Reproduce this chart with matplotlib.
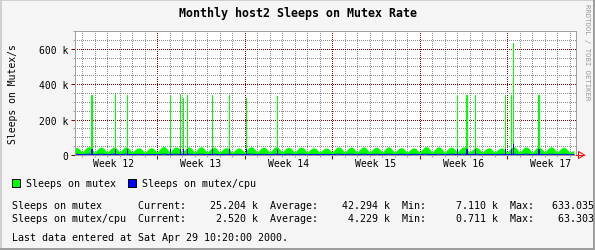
"""
RRDtool style monthly graph: host2 sleeps on mutex
"""

import numpy as np
import matplotlib
matplotlib.use('Agg')
import matplotlib.pyplot as plt
import matplotlib.transforms as mtransforms
from matplotlib.lines import Line2D
from matplotlib.patches import Rectangle, Polygon
from matplotlib.ticker import MultipleLocator, FuncFormatter, NullFormatter

W, H = 595, 251
MONO = 'DejaVu Sans Mono'

# Sleeps on mutex (k/s), 4-hour samples 00h..20h, one row per day,
# Mon Mar 20 .. Sat Apr 29 2000 (x axis = hours since Mar 20 00:00)
mutex_daily = [
    [17, 28, 38, 43, 40, 29],  # Mar 20
    [15, 29, 41, 47, 43, 30],
    [16, 28, 40, 45, 41, 29],
    [14, 28, 39, 44, 42, 30],
    [16, 29, 41, 46, 41, 28],
    [15, 27, 36, 41, 39, 27],
    [14, 26, 36, 42, 38, 27],
    [15, 30, 43, 49, 44, 31],  # Mar 27
    [16, 29, 41, 46, 42, 29],
    [15, 28, 40, 45, 43, 30],
    [14, 29, 41, 47, 42, 28],
    [16, 28, 39, 44, 41, 29],
    [15, 27, 37, 42, 39, 27],
    [14, 26, 35, 41, 38, 26],
    [16, 30, 42, 47, 43, 30],  # Apr 3
    [15, 29, 40, 45, 41, 29],
    [14, 28, 41, 46, 42, 30],
    [16, 29, 39, 44, 40, 28],
    [15, 28, 40, 45, 42, 29],
    [14, 27, 36, 41, 38, 27],
    [15, 26, 35, 40, 37, 26],
    [16, 29, 41, 46, 43, 30],  # Apr 10
    [15, 28, 40, 45, 41, 29],
    [14, 29, 41, 47, 42, 29],
    [16, 28, 39, 44, 41, 30],
    [15, 29, 40, 46, 42, 28],
    [14, 27, 37, 42, 39, 27],
    [15, 26, 36, 41, 38, 26],
    [16, 30, 42, 48, 44, 30],  # Apr 17
    [15, 29, 41, 46, 42, 29],
    [14, 28, 40, 45, 41, 30],
    [16, 29, 41, 46, 43, 29],
    [15, 28, 39, 44, 40, 28],
    [14, 27, 36, 41, 39, 27],
    [15, 26, 35, 41, 37, 26],
    [16, 30, 42, 47, 43, 30],  # Apr 24
    [15, 29, 41, 46, 42, 29],
    [14, 28, 40, 45, 41, 30],
    [16, 29, 41, 47, 42, 29],
    [15, 28, 39, 44, 41, 28],
    [14, 22, 25],              # Apr 29 (last data 10:20)
]
SAMPLE_H = 4

# short bursts (2 h samples), hours since Mar 20 00:00, values in k/s
spike_hours = [41, 43, 87, 109, 193, 212, 217, 225, 273, 306, 339, 397,
               743, 761, 763, 779, 836, 847, 851, 899, 901]
spike_vals = [340, 340, 345, 340, 332, 343, 323, 340, 340, 340, 323, 332,
              336, 336, 336, 336, 340, 336, 633, 340, 340]

N_CPU = 10  # "mutex/cpu" = mutex / number of cpus

week_nums = [12, 13, 14, 15, 16, 17]
x_start, x_end = 10.1, 972.0

stat_names = ['Sleeps on mutex', 'Sleeps on mutex/cpu']
stat_cur = [25.204, 2.520]
stat_avg = [42.294, 4.229]
stat_min = [7.110, 0.711]
stat_max = [633.035, 63.303]
last_update = 'Sat Apr 29 10:20:00 2000'

GREEN = '#00ff00'
BLUE = '#0000ff'
MGRID = '#820000'
GRID = '#8c8c8c'
FRAME = '#a0a0a0'
FS = 7.2


def fx(px):
    return px / W


def fy(py):
    return 1 - py / H


mutex = np.concatenate([np.array(r, dtype=float) for r in mutex_daily]) * 1000
hours = np.arange(len(mutex)) * SAMPLE_H
spikes = np.array(spike_vals, dtype=float) * 1000

fig = plt.figure(figsize=(W / 100, H / 100), dpi=100, facecolor='#f5f5f5')
ax = fig.add_axes([fx(75), fy(156), fx(576) - fx(75), fy(32) - fy(156)])
ax.set_facecolor('white')

ax.fill_between(hours, 0, mutex, color=GREEN, lw=0, zorder=1, antialiased=False)
ax.vlines(spike_hours, 0, spikes, color=GREEN, lw=0.72, zorder=1,
          antialiased=False)
ax.plot(hours, mutex / N_CPU, color=BLUE, lw=0.72, zorder=2)
ax.vlines(spike_hours, 0, spikes / N_CPU, color=BLUE, lw=0.72, zorder=2,
          antialiased=False)

ax.set_xlim(x_start, x_end)
ax.set_ylim(0, 700000)

ax.xaxis.set_major_locator(MultipleLocator(168))
ax.xaxis.set_minor_locator(MultipleLocator(24))
ax.xaxis.set_major_formatter(NullFormatter())
ax.yaxis.set_major_locator(MultipleLocator(200000))
ax.yaxis.set_minor_locator(MultipleLocator(50000))
ax.yaxis.set_major_formatter(FuncFormatter(
    lambda v, p: '0' if v == 0 else f'{v / 1000:.0f} k'))

# dotted rrdtool grid behind the data
ax.set_axisbelow(True)
ax.grid(True, which='major', color=MGRID, linestyle=(0.5, (1, 1)), lw=0.72)
ax.grid(True, which='minor', color=GRID, linestyle=(0.5, (1, 1)), lw=0.72)

ax.tick_params(which='major', direction='out', length=2.6, width=0.72,
               color=MGRID, pad=2.2, labelsize=7)
ax.tick_params(which='minor', direction='out', length=1.5, width=0.72,
               color=FRAME)
for lab in ax.get_yticklabels():
    lab.set_family(MONO)
for s in ax.spines.values():
    s.set_color(FRAME)
    s.set_linewidth(0.72)

# week labels centred in each week
trans = mtransforms.blended_transform_factory(ax.transData, fig.transFigure)
for k, wk in enumerate(week_nums):
    ax.text(168 * k + 84, fy(164.5), f'Week {wk}', transform=trans,
            ha='center', va='center', fontsize=7, family=MONO, clip_on=False)

# x axis arrow
fig.add_artist(Line2D([fx(576), fx(584)], [fy(156), fy(156)], color='red', lw=0.72))
fig.add_artist(Polygon([(fx(578.5), fy(152.5)), (fx(578.5), fy(159.5)),
                        (fx(584.5), fy(156))], closed=True, fc='none',
                       ec='red', lw=0.72))

fig.text(fx(298), fy(14), 'Monthly host2 Sleeps on Mutex Rate', ha='center',
         va='center', fontsize=8.4, fontweight='bold', family=MONO)
fig.text(fx(12.5), fy(94), 'Sleeps on Mutex/s', rotation=90, ha='center',
         va='center', fontsize=7, family=MONO)
fig.text(fx(587), fy(52), 'RRDTOOL / TOBI OETIKER', rotation=270, ha='center',
         va='center', fontsize=5.2, family=MONO, color='#999999')

# legend
for x0, col, name in [(12, GREEN, stat_names[0]), (128, BLUE, stat_names[1])]:
    fig.add_artist(Rectangle((fx(x0), fy(188)), 8 / W, 8 / H, fc=col,
                             ec='black', lw=0.72))
    fig.text(fx(x0 + 14), fy(184), name, ha='left', va='center',
             fontsize=FS, family=MONO)

# GPRINT lines (the Max column runs into the right border, unit is cut there)
for i, name in enumerate(stat_names):
    line = (f'{name:<21s}Current:{stat_cur[i]:10.3f} k  '
            f'Average:{stat_avg[i]:10.3f} k  Min:{stat_min[i]:10.3f} k  '
            f'Max:{stat_max[i]:10.3f}')
    fig.text(fx(12), fy(206 + 13.5 * i), line, ha='left', va='center',
             fontsize=FS, family=MONO)
fig.text(fx(12), fy(238), f'Last data entered at {last_update}.', ha='left',
         va='center', fontsize=FS, family=MONO)

# 3D border
fig.add_artist(Line2D([0, 1], [fy(1), fy(1)], color='#d0d0d0', lw=1.44))
fig.add_artist(Line2D([fx(1), fx(1)], [0, 1], color='#d0d0d0', lw=1.44))
fig.add_artist(Line2D([0, 1], [fy(250), fy(250)], color='#9e9e9e', lw=1.44))
fig.add_artist(Line2D([fx(594), fx(594)], [0, 1], color='#9e9e9e', lw=1.44))

fig.savefig('out.png', dpi=100, facecolor=fig.get_facecolor())
plt.close(fig)
